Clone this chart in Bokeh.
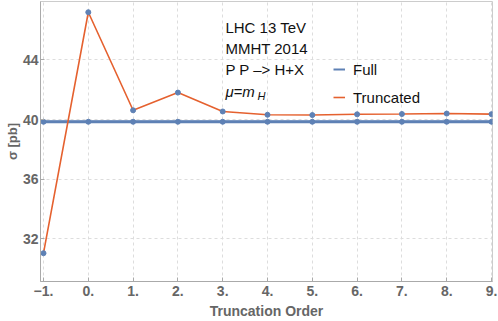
from bokeh.plotting import figure
from bokeh.models import Range1d, FixedTicker, Label, Legend, LegendItem, ColumnDataSource
from bokeh.embed import file_html
from bokeh.resources import INLINE

orders = [-1, 0, 1, 2, 3, 4, 5, 6, 7, 8, 9]
full = [39.85] * 11
truncated = [31.03, 47.2, 40.62, 41.81, 40.54, 40.32, 40.3, 40.35, 40.37, 40.4, 40.36]
x_ticks = [-1, 0, 1, 2, 3, 4, 5, 6, 7, 8, 9]
x_tick_labels = ["\u22121.", "0.", "1.", "2.", "3.", "4.", "5.", "6.", "7.", "8.", "9."]
y_ticks = [32, 36, 40, 44]
annotations = ["LHC 13 TeV", "MMHT 2014", "P P \u2013> H+X"]

BLUE = "#5E81B5"
RED = "#E5612F"
GRAY = "#666666"
FONT = "Liberation Sans"

p = figure(width=498, height=321, output_backend="svg", toolbar_location=None,
           x_range=Range1d(-1.067, 9.022), y_range=Range1d(29.13, 47.92),
           min_border_left=40, min_border_right=6, min_border_top=1, min_border_bottom=40)
p.margin = (0, 0, 0, 0)
p.background_fill_color = "white"
p.outline_line_color = "#cccccc"

src = ColumnDataSource(dict(x=orders, full=full, trunc=truncated))
lf_leg = p.line("x", "full", source=src, line_color=BLUE, line_width=2)
p.line("x", "full", source=src, line_color=BLUE, line_width=3)
lt = p.line("x", "trunc", source=src, line_color=RED, line_width=1.6)
p.scatter("x", "full", source=src, size=5, color=BLUE)
p.scatter("x", "trunc", source=src, size=5, color=BLUE)

p.xaxis.ticker = FixedTicker(ticks=x_ticks)
p.xaxis.major_label_overrides = {t: l for t, l in zip(x_ticks, x_tick_labels)}
p.yaxis.ticker = FixedTicker(ticks=y_ticks)
for ax in (p.xaxis[0], p.yaxis[0]):
    ax.axis_line_color = "#aaaaaa"
    ax.major_tick_line_color = "#aaaaaa"
    ax.major_tick_in = 4
    ax.major_tick_out = 0
    ax.minor_tick_line_color = None
    ax.major_label_text_font = FONT
    ax.major_label_text_font_style = "bold"
    ax.major_label_text_font_size = "14px"
    ax.major_label_text_color = GRAY
    ax.axis_label_text_font = FONT
    ax.axis_label_text_font_style = "bold"
    ax.axis_label_text_font_size = "14px"
    ax.axis_label_text_color = GRAY
p.xaxis.axis_label = "Truncation Order"
p.xaxis.axis_label_standoff = 4
p.xaxis.major_label_standoff = 4
p.yaxis.axis_label = "\u03c3 [pb]"
p.yaxis.axis_label_standoff = 0
p.yaxis.major_label_standoff = 2
p.yaxis.axis_label_text_font_size = "13px"

p.grid.grid_line_color = "#dddddd"
p.grid.grid_line_dash = "3 3"
p.grid.grid_line_width = 1

ys = [46.17, 44.76, 43.35]
for t, yv in zip(annotations, ys):
    p.add_layout(Label(x=3.06, y=yv, text=t, text_font=FONT, text_font_size="15px",
                       text_color="#111111", text_baseline="middle"))
p.add_layout(Label(x=3.06, y=41.85, text="\u03bc=m", text_font=FONT, text_font_size="15px",
                   text_font_style="italic", text_color="#111111", text_baseline="middle"))
p.add_layout(Label(x=3.06, y=41.85, x_offset=32, y_offset=-4, text="H", text_font=FONT,
                   text_font_size="11px", text_font_style="italic", text_color="#111111",
                   text_baseline="middle"))

legend = Legend(items=[LegendItem(label="Full", renderers=[lf_leg]),
                       LegendItem(label="Truncated", renderers=[lt])],
                location=(293, 174), border_line_color=None, background_fill_alpha=0,
                padding=0, margin=0, spacing=8, glyph_width=12, glyph_height=20,
                label_height=20, label_standoff=8, label_text_font=FONT,
                label_text_font_size="15px", label_text_color="#111111")
p.add_layout(legend)

open("out.html", "w").write(file_html(p, INLINE))
